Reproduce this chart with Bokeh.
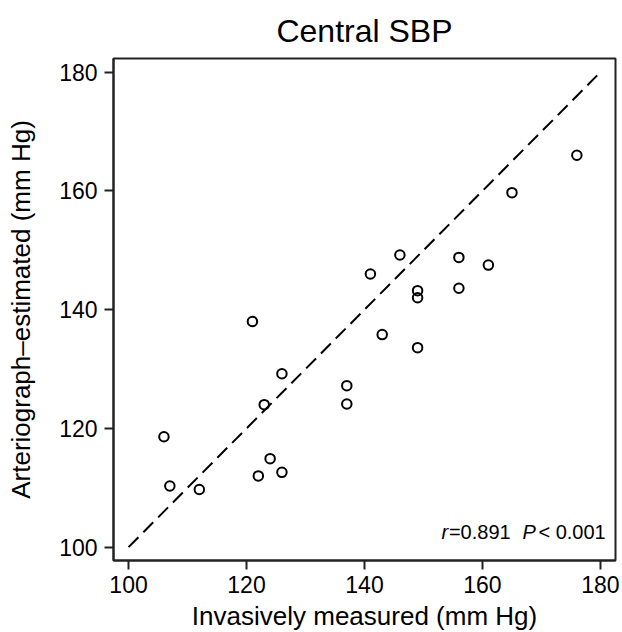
from bokeh.plotting import figure
from bokeh.models import FixedTicker, Range1d, Label
from bokeh.embed import file_html
from bokeh.resources import INLINE

# Data
invasive = [106, 107, 112, 121, 122, 123, 124, 126, 126, 137, 137,
            141, 143, 146, 149, 149, 149, 156, 156, 161, 165, 176]
arteriograph = [118.6, 110.3, 109.7, 138.0, 112.0, 124.0, 114.9, 112.6, 129.2, 127.2, 124.1,
                146.0, 135.8, 149.2, 143.2, 142.0, 133.6, 148.8, 143.6, 147.5, 159.7, 166.0]
identity = [100, 180]
ticks = [100, 120, 140, 160, 180]

FONT = "Liberation Sans"

p = figure(width=621, height=628, frame_width=502, frame_height=502,
           x_range=Range1d(97.45, 182.55), y_range=Range1d(97.75, 182.3),
           output_backend="svg", toolbar_location=None,
           min_border_left=113, min_border_top=58, min_border_right=6, min_border_bottom=68,
           title="Central SBP")

p.title.text_font = FONT
p.title.text_font_size = "32px"
p.title.text_font_style = "normal"
p.title.align = "center"
p.title.text_color = "black"
p.title.standoff = 20

p.grid.visible = False
p.outline_line_color = "#222222"
p.outline_line_width = 2
p.outline_line_alpha = 1

for ax in (p.xaxis[0], p.yaxis[0]):
    ax.ticker = FixedTicker(ticks=ticks)
    ax.major_tick_out = 9
    ax.major_tick_in = 0
    ax.minor_tick_line_color = None
    ax.major_tick_line_width = 2
    ax.major_tick_line_color = "#222222"
    ax.axis_line_width = 2
    ax.axis_line_color = "#222222"
    ax.major_label_text_font = FONT
    ax.major_label_text_font_size = "23px"
    ax.major_label_text_color = "black"
    ax.axis_label_text_font = FONT
    ax.axis_label_text_font_size = "26px"
    ax.axis_label_text_font_style = "normal"
    ax.axis_label_text_color = "black"

p.xaxis.axis_label = "Invasively measured (mm Hg)"
p.yaxis.axis_label = "Arteriograph\u2013estimated (mm Hg)"
p.xaxis.major_label_standoff = 6
p.yaxis.major_label_standoff = 7
p.xaxis.axis_label_standoff = 5
p.yaxis.axis_label_standoff = 20

p.line(identity, identity, line_color="black", line_width=2, line_dash="14 7")
p.scatter(invasive, arteriograph, marker="circle", size=9.5, fill_color=None,
          line_color="black", line_width=2)

ann_x = 153.04
ann_y = 102.5
pieces = [("r", "italic", 0), ("=0.891", "normal", 7.5), ("P", "italic", 81), ("< 0.001", "normal", 97)]
for txt, style, off in pieces:
    p.add_layout(Label(x=ann_x, y=ann_y, x_offset=off, text=txt, text_font=FONT,
                       text_font_size="20px", text_font_style=style, text_color="black",
                       text_align="left", text_baseline="alphabetic"))

open("out.html", "w").write(file_html(p, INLINE))
